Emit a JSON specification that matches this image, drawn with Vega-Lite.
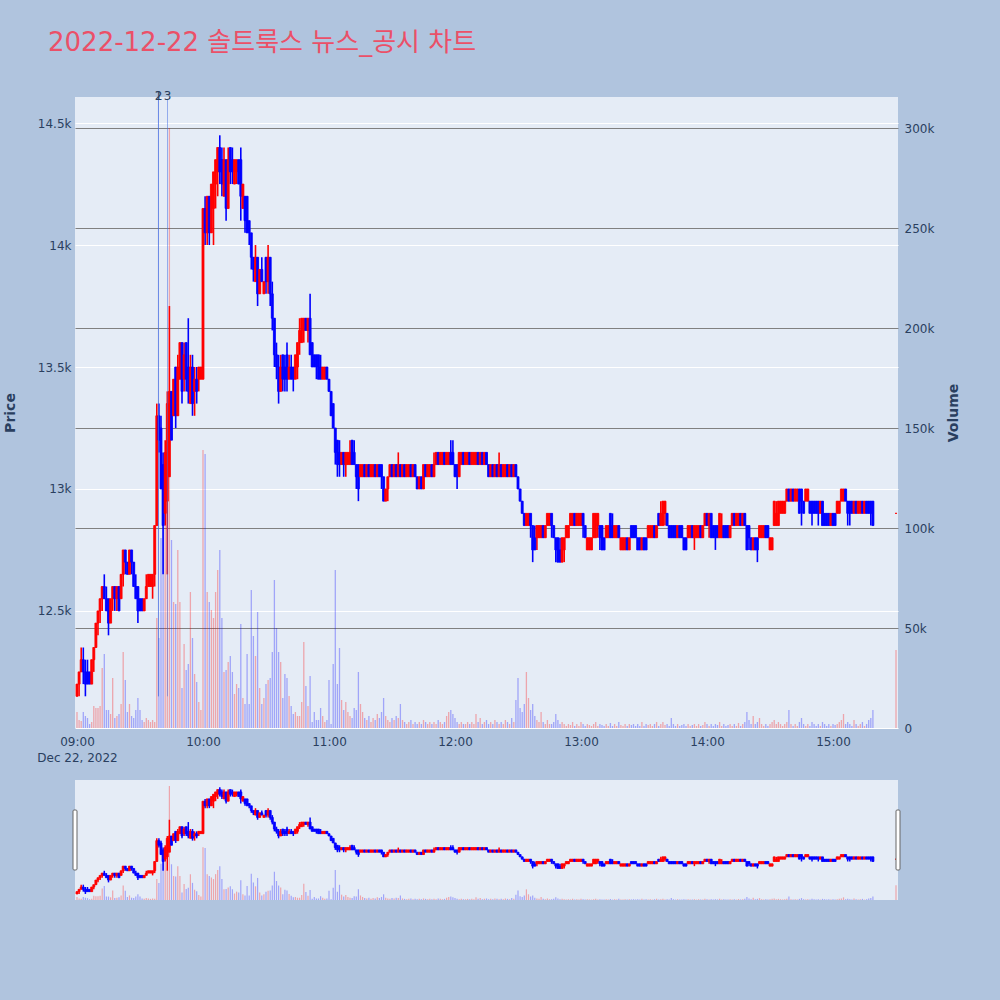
{
"$schema": "https://vega.github.io/schema/vega-lite/v6.json",
"autosize": "none",
"padding": {"left": 75, "top": 97, "right": 102, "bottom": 272},
"width": 823,
"height": 631,
"background": "#B0C4DE",
"title": {"text": "2022-12-22 솔트룩스 뉴스_공시 차트", "anchor": "start", "frame": "group", "dx": -27, "fontSize": 26, "font": "DejaVu Sans, Noto Sans CJK KR", "fontWeight": "normal", "color": "#EB5068", "baseline": "alphabetic", "offset": 13},
"config": {
  "font": "DejaVu Sans",
  "view": {"fill": "#E5ECF6", "stroke": null},
  "axis": {"labelFont": "DejaVu Sans", "labelColor": "#2a3f5f", "labelFontSize": 12, "domain": false, "ticks": false, "titleFont": "DejaVu Sans", "titleColor": "#2a3f5f"}
},
"datasets": {
"news": [{"m": 38.8, "n": "1"}, {"m": 38.8, "n": "2"}, {"m": 43.1, "n": "3"}],
"hd": [{"m": -0.95}, {"m": 390.95}],
"k": [
{"m":0,"o":12150,"h":12200,"l":12150,"c":12200,"v":8000},
{"m":1,"o":12200,"h":12250,"l":12150,"c":12250,"v":4000},
{"m":2,"o":12250,"h":12350,"l":12250,"c":12300,"v":3500},
{"m":3,"o":12300,"h":12350,"l":12200,"c":12250,"v":8000},
{"m":4,"o":12250,"h":12300,"l":12150,"c":12200,"v":6000},
{"m":5,"o":12250,"h":12300,"l":12200,"c":12200,"v":5000},
{"m":6,"o":12250,"h":12250,"l":12200,"c":12200,"v":2000},
{"m":7,"o":12200,"h":12300,"l":12200,"c":12300,"v":3000},
{"m":8,"o":12300,"h":12350,"l":12250,"c":12350,"v":11000},
{"m":9,"o":12350,"h":12450,"l":12350,"c":12450,"v":10000},
{"m":10,"o":12450,"h":12500,"l":12400,"c":12500,"v":10000},
{"m":11,"o":12500,"h":12550,"l":12450,"c":12550,"v":11000},
{"m":12,"o":12550,"h":12600,"l":12500,"c":12600,"v":30000},
{"m":13,"o":12600,"h":12650,"l":12550,"c":12550,"v":37000},
{"m":14,"o":12550,"h":12600,"l":12500,"c":12500,"v":9000},
{"m":15,"o":12550,"h":12550,"l":12400,"c":12450,"v":9000},
{"m":16,"o":12450,"h":12550,"l":12450,"c":12550,"v":7000},
{"m":17,"o":12550,"h":12600,"l":12500,"c":12600,"v":25000},
{"m":18,"o":12600,"h":12600,"l":12500,"c":12550,"v":5000},
{"m":19,"o":12550,"h":12600,"l":12500,"c":12600,"v":6000},
{"m":20,"o":12600,"h":12600,"l":12500,"c":12500,"v":7000},
{"m":21,"o":12550,"h":12650,"l":12550,"c":12650,"v":12000},
{"m":22,"o":12650,"h":12750,"l":12600,"c":12750,"v":38000},
{"m":23,"o":12750,"h":12750,"l":12650,"c":12700,"v":24000},
{"m":24,"o":12700,"h":12700,"l":12650,"c":12650,"v":8000},
{"m":25,"o":12650,"h":12750,"l":12650,"c":12750,"v":12000},
{"m":26,"o":12750,"h":12750,"l":12650,"c":12700,"v":6000},
{"m":27,"o":12700,"h":12700,"l":12600,"c":12600,"v":5000},
{"m":28,"o":12600,"h":12650,"l":12550,"c":12550,"v":9000},
{"m":29,"o":12600,"h":12600,"l":12450,"c":12500,"v":15000},
{"m":30,"o":12550,"h":12550,"l":12500,"c":12500,"v":9000},
{"m":31,"o":12550,"h":12550,"l":12500,"c":12500,"v":4000},
{"m":32,"o":12500,"h":12550,"l":12500,"c":12550,"v":3000},
{"m":33,"o":12550,"h":12650,"l":12550,"c":12600,"v":5000},
{"m":34,"o":12600,"h":12650,"l":12600,"c":12650,"v":4000},
{"m":35,"o":12600,"h":12650,"l":12600,"c":12650,"v":3000},
{"m":36,"o":12600,"h":12650,"l":12550,"c":12650,"v":4000},
{"m":37,"o":12650,"h":12850,"l":12600,"c":12850,"v":3000},
{"m":38,"o":12850,"h":13350,"l":12850,"c":13300,"v":55000},
{"m":39,"o":13300,"h":13350,"l":13150,"c":13200,"v":45000},
{"m":40,"o":13250,"h":13300,"l":13000,"c":13000,"v":95000},
{"m":41,"o":13100,"h":13150,"l":12650,"c":12850,"v":110000},
{"m":42,"o":12900,"h":13200,"l":12850,"c":13150,"v":118000},
{"m":43,"o":12950,"h":13400,"l":12650,"c":13350,"v":77000},
{"m":44,"o":13050,"h":13750,"l":13050,"c":13400,"v":300000},
{"m":45,"o":13400,"h":13400,"l":13200,"c":13200,"v":94000},
{"m":46,"o":13300,"h":13450,"l":13300,"c":13450,"v":63000},
{"m":47,"o":13500,"h":13500,"l":13250,"c":13300,"v":62000},
{"m":48,"o":13300,"h":13550,"l":13300,"c":13500,"v":89000},
{"m":49,"o":13450,"h":13600,"l":13450,"c":13600,"v":63000},
{"m":50,"o":13600,"h":13600,"l":13350,"c":13400,"v":20000},
{"m":51,"o":13450,"h":13600,"l":13400,"c":13550,"v":42000},
{"m":52,"o":13600,"h":13600,"l":13400,"c":13450,"v":29000},
{"m":53,"o":13500,"h":13700,"l":13350,"c":13400,"v":32000},
{"m":54,"o":13350,"h":13550,"l":13350,"c":13500,"v":68000},
{"m":55,"o":13500,"h":13550,"l":13300,"c":13350,"v":45000},
{"m":56,"o":13400,"h":13500,"l":13300,"c":13450,"v":27000},
{"m":57,"o":13450,"h":13500,"l":13350,"c":13400,"v":23000},
{"m":58,"o":13450,"h":13500,"l":13400,"c":13500,"v":13000},
{"m":59,"o":13450,"h":13500,"l":13450,"c":13500,"v":9000},
{"m":60,"o":13450,"h":14150,"l":13450,"c":14150,"v":139000},
{"m":61,"o":14150,"h":14200,"l":14000,"c":14050,"v":137000},
{"m":62,"o":14050,"h":14200,"l":14000,"c":14200,"v":68000},
{"m":63,"o":14200,"h":14200,"l":14000,"c":14050,"v":63000},
{"m":64,"o":14050,"h":14250,"l":14050,"c":14250,"v":59000},
{"m":65,"o":14150,"h":14300,"l":14000,"c":14300,"v":55000},
{"m":66,"o":14250,"h":14350,"l":14150,"c":14350,"v":68000},
{"m":67,"o":14300,"h":14400,"l":14200,"c":14400,"v":79000},
{"m":68,"o":14400,"h":14450,"l":14250,"c":14300,"v":89000},
{"m":69,"o":14350,"h":14400,"l":14200,"c":14250,"v":55000},
{"m":70,"o":14200,"h":14400,"l":14200,"c":14350,"v":28000},
{"m":71,"o":14350,"h":14350,"l":14100,"c":14150,"v":29000},
{"m":72,"o":14150,"h":14400,"l":14150,"c":14350,"v":33000},
{"m":73,"o":14400,"h":14400,"l":14250,"c":14300,"v":36000},
{"m":74,"o":14350,"h":14400,"l":14250,"c":14300,"v":28000},
{"m":75,"o":14250,"h":14350,"l":14250,"c":14350,"v":17000},
{"m":76,"o":14300,"h":14350,"l":14250,"c":14350,"v":22000},
{"m":77,"o":14350,"h":14350,"l":14250,"c":14250,"v":20000},
{"m":78,"o":14350,"h":14400,"l":14100,"c":14200,"v":52000},
{"m":79,"o":14150,"h":14250,"l":14150,"c":14250,"v":15000},
{"m":80,"o":14200,"h":14200,"l":14050,"c":14100,"v":12000},
{"m":81,"o":14200,"h":14200,"l":14050,"c":14050,"v":37000},
{"m":82,"o":14100,"h":14100,"l":14000,"c":14050,"v":12000},
{"m":83,"o":14050,"h":14050,"l":13900,"c":13950,"v":69000},
{"m":84,"o":13950,"h":13950,"l":13850,"c":13900,"v":46000},
{"m":85,"o":13850,"h":14000,"l":13850,"c":13950,"v":36000},
{"m":86,"o":13950,"h":13950,"l":13750,"c":13800,"v":58000},
{"m":87,"o":13800,"h":13900,"l":13800,"c":13900,"v":20000},
{"m":88,"o":13900,"h":13950,"l":13850,"c":13850,"v":12000},
{"m":89,"o":13800,"h":13850,"l":13800,"c":13850,"v":15000},
{"m":90,"o":13950,"h":13950,"l":13800,"c":13850,"v":22000},
{"m":91,"o":13850,"h":14000,"l":13800,"c":13950,"v":24000},
{"m":92,"o":13950,"h":13950,"l":13750,"c":13800,"v":25000},
{"m":93,"o":13800,"h":13850,"l":13650,"c":13700,"v":38000},
{"m":94,"o":13700,"h":13700,"l":13500,"c":13550,"v":74000},
{"m":95,"o":13550,"h":13600,"l":13450,"c":13500,"v":50000},
{"m":96,"o":13500,"h":13550,"l":13350,"c":13400,"v":38000},
{"m":97,"o":13400,"h":13550,"l":13400,"c":13500,"v":33000},
{"m":98,"o":13550,"h":13550,"l":13400,"c":13450,"v":15000},
{"m":99,"o":13500,"h":13550,"l":13400,"c":13450,"v":27000},
{"m":100,"o":13550,"h":13600,"l":13400,"c":13450,"v":25000},
{"m":101,"o":13450,"h":13550,"l":13450,"c":13500,"v":16000},
{"m":102,"o":13500,"h":13550,"l":13450,"c":13450,"v":11000},
{"m":103,"o":13500,"h":13500,"l":13400,"c":13450,"v":7000},
{"m":104,"o":13450,"h":13550,"l":13450,"c":13550,"v":8000},
{"m":105,"o":13500,"h":13600,"l":13450,"c":13600,"v":6000},
{"m":106,"o":13600,"h":13700,"l":13550,"c":13650,"v":6000},
{"m":107,"o":13600,"h":13700,"l":13600,"c":13700,"v":13000},
{"m":108,"o":13650,"h":13700,"l":13600,"c":13700,"v":43000},
{"m":109,"o":13700,"h":13700,"l":13650,"c":13650,"v":21000},
{"m":110,"o":13650,"h":13700,"l":13600,"c":13700,"v":11000},
{"m":111,"o":13700,"h":13800,"l":13550,"c":13550,"v":26000},
{"m":112,"o":13600,"h":13600,"l":13500,"c":13500,"v":3000},
{"m":113,"o":13550,"h":13550,"l":13500,"c":13500,"v":8000},
{"m":114,"o":13550,"h":13550,"l":13450,"c":13500,"v":4000},
{"m":115,"o":13550,"h":13550,"l":13450,"c":13450,"v":4000},
{"m":116,"o":13500,"h":13550,"l":13450,"c":13450,"v":10000},
{"m":117,"o":13450,"h":13500,"l":13450,"c":13500,"v":6000},
{"m":118,"o":13450,"h":13500,"l":13450,"c":13500,"v":3000},
{"m":119,"o":13500,"h":13500,"l":13450,"c":13450,"v":4000},
{"m":120,"o":13450,"h":13450,"l":13400,"c":13400,"v":24000},
{"m":121,"o":13400,"h":13400,"l":13300,"c":13300,"v":2000},
{"m":122,"o":13350,"h":13350,"l":13250,"c":13250,"v":32000},
{"m":123,"o":13250,"h":13250,"l":13100,"c":13150,"v":79000},
{"m":124,"o":13200,"h":13200,"l":13050,"c":13100,"v":22000},
{"m":125,"o":13150,"h":13200,"l":13050,"c":13100,"v":40000},
{"m":126,"o":13100,"h":13150,"l":13100,"c":13150,"v":14000},
{"m":127,"o":13150,"h":13150,"l":13050,"c":13100,"v":9000},
{"m":128,"o":13100,"h":13150,"l":13050,"c":13150,"v":13000},
{"m":129,"o":13100,"h":13150,"l":13100,"c":13150,"v":8000},
{"m":130,"o":13100,"h":13200,"l":13100,"c":13150,"v":6000},
{"m":131,"o":13200,"h":13200,"l":13100,"c":13100,"v":5000},
{"m":132,"o":13150,"h":13200,"l":13100,"c":13100,"v":10000},
{"m":133,"o":13100,"h":13100,"l":13000,"c":13050,"v":9000},
{"m":134,"o":13100,"h":13100,"l":12950,"c":13000,"v":28000},
{"m":135,"o":13050,"h":13100,"l":13050,"c":13100,"v":12000},
{"m":136,"o":13050,"h":13100,"l":13050,"c":13100,"v":8000},
{"m":137,"o":13100,"h":13100,"l":13050,"c":13050,"v":5000},
{"m":138,"o":13050,"h":13100,"l":13050,"c":13100,"v":4000},
{"m":139,"o":13100,"h":13100,"l":13050,"c":13050,"v":6000},
{"m":140,"o":13050,"h":13100,"l":13050,"c":13100,"v":3000},
{"m":141,"o":13050,"h":13100,"l":13050,"c":13100,"v":5000},
{"m":142,"o":13100,"h":13100,"l":13050,"c":13050,"v":4000},
{"m":143,"o":13050,"h":13100,"l":13050,"c":13100,"v":7000},
{"m":144,"o":13100,"h":13100,"l":13050,"c":13050,"v":5000},
{"m":145,"o":13100,"h":13100,"l":13000,"c":13050,"v":8000},
{"m":146,"o":13050,"h":13050,"l":12950,"c":12950,"v":15000},
{"m":147,"o":12950,"h":13000,"l":12950,"c":13000,"v":6000},
{"m":148,"o":13000,"h":13050,"l":12950,"c":13050,"v":4000},
{"m":149,"o":13050,"h":13100,"l":13050,"c":13100,"v":3000},
{"m":150,"o":13100,"h":13100,"l":13050,"c":13050,"v":5000},
{"m":151,"o":13050,"h":13100,"l":13050,"c":13100,"v":4000},
{"m":152,"o":13100,"h":13100,"l":13050,"c":13050,"v":6000},
{"m":153,"o":13050,"h":13150,"l":13050,"c":13100,"v":5000},
{"m":154,"o":13100,"h":13100,"l":13050,"c":13050,"v":12000},
{"m":155,"o":13050,"h":13100,"l":13050,"c":13100,"v":4000},
{"m":156,"o":13100,"h":13100,"l":13050,"c":13050,"v":3000},
{"m":157,"o":13050,"h":13100,"l":13050,"c":13100,"v":2000},
{"m":158,"o":13050,"h":13100,"l":13050,"c":13100,"v":3000},
{"m":159,"o":13100,"h":13100,"l":13050,"c":13050,"v":4000},
{"m":160,"o":13050,"h":13100,"l":13050,"c":13100,"v":2000},
{"m":161,"o":13100,"h":13100,"l":13050,"c":13050,"v":3000},
{"m":162,"o":13050,"h":13050,"l":13000,"c":13000,"v":2000},
{"m":163,"o":13000,"h":13050,"l":13000,"c":13050,"v":3000},
{"m":164,"o":13050,"h":13050,"l":13000,"c":13000,"v":2000},
{"m":165,"o":13000,"h":13100,"l":13000,"c":13100,"v":4000},
{"m":166,"o":13100,"h":13100,"l":13050,"c":13050,"v":3000},
{"m":167,"o":13050,"h":13100,"l":13050,"c":13100,"v":2000},
{"m":168,"o":13050,"h":13100,"l":13050,"c":13100,"v":3000},
{"m":169,"o":13100,"h":13100,"l":13050,"c":13050,"v":2000},
{"m":170,"o":13050,"h":13150,"l":13050,"c":13100,"v":3000},
{"m":171,"o":13100,"h":13150,"l":13100,"c":13150,"v":2000},
{"m":172,"o":13150,"h":13150,"l":13100,"c":13100,"v":4000},
{"m":173,"o":13100,"h":13150,"l":13100,"c":13150,"v":3000},
{"m":174,"o":13100,"h":13150,"l":13100,"c":13150,"v":2000},
{"m":175,"o":13150,"h":13150,"l":13100,"c":13100,"v":3000},
{"m":176,"o":13100,"h":13150,"l":13100,"c":13150,"v":6000},
{"m":177,"o":13100,"h":13150,"l":13100,"c":13150,"v":8000},
{"m":178,"o":13150,"h":13200,"l":13100,"c":13100,"v":9000},
{"m":179,"o":13150,"h":13200,"l":13100,"c":13100,"v":7000},
{"m":180,"o":13100,"h":13100,"l":13050,"c":13050,"v":5000},
{"m":181,"o":13100,"h":13100,"l":13000,"c":13050,"v":3000},
{"m":182,"o":13050,"h":13150,"l":13050,"c":13150,"v":2000},
{"m":183,"o":13100,"h":13150,"l":13100,"c":13150,"v":3000},
{"m":184,"o":13150,"h":13150,"l":13100,"c":13100,"v":2000},
{"m":185,"o":13100,"h":13150,"l":13100,"c":13150,"v":2000},
{"m":186,"o":13100,"h":13150,"l":13100,"c":13150,"v":3000},
{"m":187,"o":13150,"h":13150,"l":13100,"c":13100,"v":2000},
{"m":188,"o":13100,"h":13150,"l":13100,"c":13150,"v":3000},
{"m":189,"o":13100,"h":13150,"l":13100,"c":13150,"v":2000},
{"m":190,"o":13100,"h":13150,"l":13100,"c":13150,"v":7000},
{"m":191,"o":13150,"h":13150,"l":13100,"c":13100,"v":3000},
{"m":192,"o":13100,"h":13150,"l":13100,"c":13150,"v":5000},
{"m":193,"o":13150,"h":13150,"l":13100,"c":13100,"v":2000},
{"m":194,"o":13100,"h":13150,"l":13100,"c":13150,"v":3000},
{"m":195,"o":13150,"h":13150,"l":13100,"c":13100,"v":4000},
{"m":196,"o":13100,"h":13100,"l":13050,"c":13050,"v":2000},
{"m":197,"o":13050,"h":13100,"l":13050,"c":13100,"v":3000},
{"m":198,"o":13100,"h":13100,"l":13050,"c":13050,"v":2000},
{"m":199,"o":13050,"h":13100,"l":13050,"c":13100,"v":4000},
{"m":200,"o":13100,"h":13100,"l":13050,"c":13050,"v":3000},
{"m":201,"o":13050,"h":13150,"l":13050,"c":13100,"v":2000},
{"m":202,"o":13100,"h":13100,"l":13050,"c":13050,"v":3000},
{"m":203,"o":13050,"h":13100,"l":13050,"c":13100,"v":2000},
{"m":204,"o":13050,"h":13100,"l":13050,"c":13100,"v":4000},
{"m":205,"o":13100,"h":13100,"l":13050,"c":13050,"v":3000},
{"m":206,"o":13050,"h":13100,"l":13050,"c":13100,"v":2000},
{"m":207,"o":13100,"h":13100,"l":13050,"c":13050,"v":5000},
{"m":208,"o":13050,"h":13100,"l":13050,"c":13100,"v":3000},
{"m":209,"o":13100,"h":13100,"l":13050,"c":13050,"v":14000},
{"m":210,"o":13050,"h":13050,"l":13000,"c":13000,"v":25000},
{"m":211,"o":13000,"h":13000,"l":12950,"c":12950,"v":10000},
{"m":212,"o":12950,"h":12950,"l":12900,"c":12900,"v":8000},
{"m":213,"o":12900,"h":12900,"l":12850,"c":12850,"v":12000},
{"m":214,"o":12850,"h":12900,"l":12850,"c":12900,"v":28000},
{"m":215,"o":12850,"h":12900,"l":12850,"c":12900,"v":15000},
{"m":216,"o":12900,"h":12900,"l":12800,"c":12850,"v":9000},
{"m":217,"o":12850,"h":12850,"l":12700,"c":12750,"v":12000},
{"m":218,"o":12800,"h":12850,"l":12750,"c":12750,"v":6000},
{"m":219,"o":12800,"h":12850,"l":12750,"c":12850,"v":4000},
{"m":220,"o":12800,"h":12850,"l":12800,"c":12850,"v":3000},
{"m":221,"o":12800,"h":12850,"l":12800,"c":12850,"v":8000},
{"m":222,"o":12850,"h":12850,"l":12800,"c":12800,"v":3000},
{"m":223,"o":12800,"h":12850,"l":12800,"c":12850,"v":2000},
{"m":224,"o":12850,"h":12900,"l":12850,"c":12900,"v":4000},
{"m":225,"o":12850,"h":12900,"l":12850,"c":12900,"v":2000},
{"m":226,"o":12900,"h":12900,"l":12800,"c":12850,"v":2000},
{"m":227,"o":12850,"h":12850,"l":12800,"c":12800,"v":3000},
{"m":228,"o":12800,"h":12800,"l":12700,"c":12750,"v":7000},
{"m":229,"o":12800,"h":12800,"l":12700,"c":12700,"v":4000},
{"m":230,"o":12750,"h":12800,"l":12700,"c":12700,"v":2000},
{"m":231,"o":12700,"h":12800,"l":12700,"c":12800,"v":3000},
{"m":232,"o":12750,"h":12800,"l":12700,"c":12800,"v":2000},
{"m":233,"o":12800,"h":12850,"l":12800,"c":12850,"v":1000},
{"m":234,"o":12800,"h":12850,"l":12800,"c":12850,"v":2000},
{"m":235,"o":12850,"h":12900,"l":12850,"c":12900,"v":1500},
{"m":236,"o":12850,"h":12900,"l":12850,"c":12900,"v":3000},
{"m":237,"o":12900,"h":12900,"l":12850,"c":12850,"v":1000},
{"m":238,"o":12850,"h":12900,"l":12850,"c":12900,"v":2000},
{"m":239,"o":12850,"h":12900,"l":12850,"c":12900,"v":1000},
{"m":240,"o":12850,"h":12900,"l":12850,"c":12900,"v":3000},
{"m":241,"o":12900,"h":12900,"l":12800,"c":12850,"v":2000},
{"m":242,"o":12850,"h":12850,"l":12800,"c":12800,"v":1000},
{"m":243,"o":12750,"h":12800,"l":12750,"c":12800,"v":2000},
{"m":244,"o":12750,"h":12800,"l":12750,"c":12800,"v":1500},
{"m":245,"o":12750,"h":12800,"l":12750,"c":12800,"v":1000},
{"m":246,"o":12800,"h":12900,"l":12800,"c":12900,"v":2000},
{"m":247,"o":12800,"h":12900,"l":12800,"c":12900,"v":3000},
{"m":248,"o":12850,"h":12900,"l":12800,"c":12900,"v":1000},
{"m":249,"o":12850,"h":12850,"l":12750,"c":12800,"v":2000},
{"m":250,"o":12850,"h":12850,"l":12750,"c":12750,"v":1500},
{"m":251,"o":12800,"h":12800,"l":12750,"c":12750,"v":1000},
{"m":252,"o":12800,"h":12850,"l":12800,"c":12850,"v":2000},
{"m":253,"o":12800,"h":12850,"l":12800,"c":12850,"v":1000},
{"m":254,"o":12900,"h":12900,"l":12800,"c":12800,"v":2500},
{"m":255,"o":12850,"h":12900,"l":12800,"c":12800,"v":1000},
{"m":256,"o":12800,"h":12850,"l":12800,"c":12850,"v":2000},
{"m":257,"o":12800,"h":12850,"l":12800,"c":12850,"v":1000},
{"m":258,"o":12850,"h":12850,"l":12800,"c":12800,"v":3000},
{"m":259,"o":12750,"h":12800,"l":12750,"c":12800,"v":1500},
{"m":260,"o":12750,"h":12800,"l":12750,"c":12800,"v":1000},
{"m":261,"o":12750,"h":12800,"l":12750,"c":12800,"v":2000},
{"m":262,"o":12800,"h":12800,"l":12750,"c":12750,"v":1000},
{"m":263,"o":12750,"h":12800,"l":12750,"c":12800,"v":2000},
{"m":264,"o":12850,"h":12850,"l":12800,"c":12800,"v":1500},
{"m":265,"o":12850,"h":12850,"l":12800,"c":12800,"v":2000},
{"m":266,"o":12850,"h":12850,"l":12800,"c":12800,"v":1000},
{"m":267,"o":12800,"h":12800,"l":12750,"c":12750,"v":2000},
{"m":268,"o":12800,"h":12800,"l":12750,"c":12750,"v":1000},
{"m":269,"o":12750,"h":12800,"l":12750,"c":12800,"v":3000},
{"m":270,"o":12800,"h":12800,"l":12750,"c":12750,"v":1000},
{"m":271,"o":12800,"h":12800,"l":12750,"c":12750,"v":2000},
{"m":272,"o":12800,"h":12850,"l":12800,"c":12850,"v":1500},
{"m":273,"o":12800,"h":12850,"l":12800,"c":12850,"v":2000},
{"m":274,"o":12800,"h":12850,"l":12800,"c":12850,"v":1000},
{"m":275,"o":12850,"h":12850,"l":12800,"c":12800,"v":2000},
{"m":276,"o":12800,"h":12850,"l":12800,"c":12850,"v":3000},
{"m":277,"o":12900,"h":12900,"l":12850,"c":12850,"v":1000},
{"m":278,"o":12850,"h":12950,"l":12850,"c":12900,"v":2000},
{"m":279,"o":12850,"h":12950,"l":12850,"c":12950,"v":3000},
{"m":280,"o":12900,"h":12950,"l":12850,"c":12950,"v":1500},
{"m":281,"o":12900,"h":12900,"l":12850,"c":12850,"v":2000},
{"m":282,"o":12850,"h":12850,"l":12800,"c":12800,"v":1000},
{"m":283,"o":12850,"h":12850,"l":12800,"c":12800,"v":5000},
{"m":284,"o":12850,"h":12850,"l":12800,"c":12800,"v":2000},
{"m":285,"o":12850,"h":12850,"l":12800,"c":12800,"v":1000},
{"m":286,"o":12800,"h":12850,"l":12800,"c":12850,"v":2000},
{"m":287,"o":12850,"h":12850,"l":12800,"c":12800,"v":1000},
{"m":288,"o":12850,"h":12850,"l":12800,"c":12800,"v":1500},
{"m":289,"o":12800,"h":12800,"l":12750,"c":12750,"v":2000},
{"m":290,"o":12800,"h":12800,"l":12750,"c":12750,"v":1000},
{"m":291,"o":12800,"h":12850,"l":12800,"c":12850,"v":2000},
{"m":292,"o":12800,"h":12850,"l":12800,"c":12850,"v":1000},
{"m":293,"o":12850,"h":12850,"l":12800,"c":12800,"v":1500},
{"m":294,"o":12800,"h":12850,"l":12750,"c":12850,"v":2000},
{"m":295,"o":12800,"h":12850,"l":12800,"c":12850,"v":1000},
{"m":296,"o":12800,"h":12850,"l":12800,"c":12850,"v":2000},
{"m":297,"o":12850,"h":12850,"l":12800,"c":12800,"v":1000},
{"m":298,"o":12800,"h":12850,"l":12800,"c":12850,"v":1500},
{"m":299,"o":12850,"h":12900,"l":12850,"c":12900,"v":3000},
{"m":300,"o":12900,"h":12900,"l":12850,"c":12850,"v":2000},
{"m":301,"o":12850,"h":12900,"l":12800,"c":12900,"v":1000},
{"m":302,"o":12900,"h":12900,"l":12800,"c":12800,"v":2000},
{"m":303,"o":12850,"h":12850,"l":12800,"c":12800,"v":1000},
{"m":304,"o":12850,"h":12850,"l":12750,"c":12800,"v":2000},
{"m":305,"o":12850,"h":12850,"l":12800,"c":12800,"v":1500},
{"m":306,"o":12800,"h":12900,"l":12800,"c":12900,"v":3000},
{"m":307,"o":12800,"h":12900,"l":12800,"c":12850,"v":1000},
{"m":308,"o":12850,"h":12850,"l":12800,"c":12800,"v":2000},
{"m":309,"o":12850,"h":12850,"l":12800,"c":12800,"v":1000},
{"m":310,"o":12850,"h":12850,"l":12800,"c":12800,"v":1500},
{"m":311,"o":12800,"h":12850,"l":12800,"c":12850,"v":2000},
{"m":312,"o":12850,"h":12900,"l":12850,"c":12900,"v":1000},
{"m":313,"o":12900,"h":12900,"l":12850,"c":12850,"v":2000},
{"m":314,"o":12850,"h":12900,"l":12850,"c":12900,"v":1000},
{"m":315,"o":12850,"h":12900,"l":12850,"c":12900,"v":2500},
{"m":316,"o":12900,"h":12900,"l":12850,"c":12850,"v":1000},
{"m":317,"o":12850,"h":12900,"l":12850,"c":12900,"v":2000},
{"m":318,"o":12900,"h":12900,"l":12850,"c":12850,"v":3000},
{"m":319,"o":12850,"h":12850,"l":12750,"c":12750,"v":8000},
{"m":320,"o":12850,"h":12850,"l":12750,"c":12800,"v":4000},
{"m":321,"o":12800,"h":12800,"l":12750,"c":12750,"v":2000},
{"m":322,"o":12750,"h":12800,"l":12750,"c":12800,"v":6000},
{"m":323,"o":12800,"h":12800,"l":12750,"c":12750,"v":2000},
{"m":324,"o":12800,"h":12800,"l":12700,"c":12750,"v":3000},
{"m":325,"o":12800,"h":12850,"l":12800,"c":12850,"v":5000},
{"m":326,"o":12800,"h":12850,"l":12800,"c":12850,"v":2000},
{"m":327,"o":12800,"h":12850,"l":12800,"c":12850,"v":1000},
{"m":328,"o":12850,"h":12850,"l":12800,"c":12800,"v":2000},
{"m":329,"o":12850,"h":12850,"l":12800,"c":12800,"v":1000},
{"m":330,"o":12750,"h":12800,"l":12750,"c":12800,"v":2000},
{"m":331,"o":12750,"h":12800,"l":12750,"c":12800,"v":3000},
{"m":332,"o":12850,"h":12950,"l":12850,"c":12950,"v":4000},
{"m":333,"o":12850,"h":12950,"l":12850,"c":12900,"v":2000},
{"m":334,"o":12850,"h":12950,"l":12850,"c":12950,"v":3000},
{"m":335,"o":12900,"h":12950,"l":12900,"c":12950,"v":2000},
{"m":336,"o":12900,"h":12950,"l":12900,"c":12950,"v":1000},
{"m":337,"o":12900,"h":12950,"l":12900,"c":12950,"v":2000},
{"m":338,"o":12950,"h":13000,"l":12950,"c":13000,"v":3000},
{"m":339,"o":13000,"h":13000,"l":12950,"c":12950,"v":9000},
{"m":340,"o":12950,"h":13000,"l":12950,"c":13000,"v":2000},
{"m":341,"o":13000,"h":13000,"l":12950,"c":12950,"v":1000},
{"m":342,"o":12950,"h":13000,"l":12950,"c":13000,"v":2000},
{"m":343,"o":12950,"h":13000,"l":12950,"c":13000,"v":1000},
{"m":344,"o":13000,"h":13000,"l":12900,"c":12900,"v":3000},
{"m":345,"o":13000,"h":13000,"l":12850,"c":12950,"v":5000},
{"m":346,"o":12950,"h":12950,"l":12900,"c":12900,"v":2000},
{"m":347,"o":12950,"h":13000,"l":12950,"c":13000,"v":1000},
{"m":348,"o":12950,"h":13000,"l":12950,"c":13000,"v":2000},
{"m":349,"o":12950,"h":12950,"l":12900,"c":12900,"v":1000},
{"m":350,"o":12950,"h":12950,"l":12850,"c":12900,"v":3000},
{"m":351,"o":12950,"h":12950,"l":12900,"c":12900,"v":2000},
{"m":352,"o":12950,"h":12950,"l":12900,"c":12900,"v":1000},
{"m":353,"o":12950,"h":12950,"l":12850,"c":12900,"v":2000},
{"m":354,"o":12900,"h":12950,"l":12900,"c":12950,"v":1000},
{"m":355,"o":12950,"h":12950,"l":12850,"c":12850,"v":3000},
{"m":356,"o":12900,"h":12900,"l":12850,"c":12850,"v":2000},
{"m":357,"o":12900,"h":12900,"l":12850,"c":12850,"v":1000},
{"m":358,"o":12900,"h":12900,"l":12850,"c":12850,"v":2000},
{"m":359,"o":12850,"h":12900,"l":12850,"c":12900,"v":1000},
{"m":360,"o":12900,"h":12900,"l":12850,"c":12850,"v":2000},
{"m":361,"o":12900,"h":12900,"l":12850,"c":12850,"v":1500},
{"m":362,"o":12900,"h":12950,"l":12900,"c":12950,"v":2000},
{"m":363,"o":12900,"h":12950,"l":12900,"c":12950,"v":3000},
{"m":364,"o":12950,"h":13000,"l":12950,"c":13000,"v":4000},
{"m":365,"o":12950,"h":13000,"l":12950,"c":13000,"v":7000},
{"m":366,"o":13000,"h":13000,"l":12950,"c":12950,"v":2000},
{"m":367,"o":12950,"h":12950,"l":12850,"c":12900,"v":3000},
{"m":368,"o":12950,"h":12950,"l":12850,"c":12900,"v":2000},
{"m":369,"o":12950,"h":12950,"l":12900,"c":12900,"v":1000},
{"m":370,"o":12900,"h":12950,"l":12900,"c":12950,"v":4000},
{"m":371,"o":12950,"h":12950,"l":12900,"c":12900,"v":2000},
{"m":372,"o":12900,"h":12950,"l":12900,"c":12950,"v":1000},
{"m":373,"o":12900,"h":12950,"l":12900,"c":12950,"v":2000},
{"m":374,"o":12950,"h":12950,"l":12900,"c":12900,"v":3000},
{"m":375,"o":12900,"h":12950,"l":12900,"c":12950,"v":1000},
{"m":376,"o":12950,"h":12950,"l":12900,"c":12900,"v":2000},
{"m":377,"o":12950,"h":12950,"l":12900,"c":12900,"v":4000},
{"m":378,"o":12950,"h":12950,"l":12850,"c":12900,"v":5000},
{"m":379,"o":12950,"h":12950,"l":12850,"c":12850,"v":9000},
{"m":390,"o":12900,"h":12900,"l":12900,"c":12900,"v":39000}
]
},
"data": {"name": "k"},
"layer": [
  {
    "mark": {"type": "bar", "orient": "vertical", "size": 1.3, "opacity": 0.3},
    "encoding": {
      "x": {"field": "m", "type": "quantitative", "scale": {"domain": [-0.95, 390.95], "nice": false, "zero": false, "padding": 0},
            "axis": {"values": [0, 60, 120, 180, 240, 300, 360], "labelExpr": "datum.value == 0 ? ['09:00', 'Dec 22, 2022'] : ((9 + datum.value / 60) < 10 ? '0' : '') + (9 + datum.value / 60) + ':00'", "grid": false, "labelFlush": false, "labelOverlap": false, "labelPadding": 8, "labelLineHeight": 16, "title": null}},
      "y": {"field": "v", "type": "quantitative", "stack": null, "scale": {"domain": [0, 315500], "nice": false, "zero": false, "range": [631, 0]},
            "axis": {"orient": "right", "values": [0, 50000, 100000, 150000, 200000, 250000, 300000], "labelExpr": "datum.value == 0 ? '0' : (datum.value / 1000) + 'k'", "grid": true, "gridColor": {"condition": {"test": "datum.value == 0", "value": "#ffffff"}, "value": "#808080"}, "gridWidth": 1, "title": "Volume", "titleAngle": 270, "titleX": 55, "titleY": 315.5, "titleAlign": "center", "titleBaseline": "middle", "titleFontSize": 14, "titleFontWeight": "bold", "labelPadding": 6}},
      "color": {"condition": {"test": "datum.c >= datum.o", "value": "#ff0000"}, "value": "#0000ff"}
    }
  },
  {
    "mark": {"type": "rule", "strokeWidth": 1.6},
    "encoding": {
      "x": {"field": "m", "type": "quantitative"},
      "y": {"field": "l", "type": "quantitative", "scale": {"domain": [12020, 14607], "nice": false, "zero": false, "range": [631, 0]},
            "axis": {"orient": "left", "values": [12500, 13000, 13500, 14000, 14500], "labelExpr": "(datum.value / 1000) + 'k'", "grid": true, "gridColor": "#ffffff", "gridWidth": 1, "title": "Price", "titleAngle": 270, "titleX": -65, "titleY": 315.5, "titleAlign": "center", "titleBaseline": "middle", "titleFontSize": 14, "titleFontWeight": "bold", "labelPadding": 4}},
      "y2": {"field": "h"},
      "color": {"condition": {"test": "datum.c >= datum.o", "value": "#ff0000"}, "value": "#0000ff"}
    }
  },
  {
    "mark": {"type": "bar", "orient": "vertical", "size": 2, "strokeWidth": 0.8},
    "encoding": {
      "x": {"field": "m", "type": "quantitative"},
      "y": {"field": "o", "type": "quantitative", "scale": {"domain": [12020, 14607], "nice": false, "zero": false, "range": [631, 0]}, "axis": null},
      "y2": {"field": "c"},
      "color": {"condition": {"test": "datum.c >= datum.o", "value": "#ff0000"}, "value": "#0000ff"},
      "stroke": {"condition": {"test": "datum.c >= datum.o", "value": "#ff0000"}, "value": "#0000ff"}
    }
  },
  {
    "data": {"name": "news"},
    "mark": {"type": "rule", "color": "#4169E1", "opacity": 0.5, "strokeWidth": 1},
    "encoding": {
      "x": {"field": "m", "type": "quantitative"},
      "y": {"datum": 12150, "type": "quantitative", "scale": {"domain": [12020, 14607], "nice": false, "zero": false, "range": [631, 0]}, "axis": null},
      "y2": {"datum": 14600}
    }
  },
  {
    "data": {"name": "news"},
    "mark": {"type": "text", "fontSize": 12, "color": "#2a3f5f", "baseline": "middle", "font": "DejaVu Sans"},
    "encoding": {
      "x": {"field": "m", "type": "quantitative"},
      "y": {"datum": 14612, "type": "quantitative", "scale": {"domain": [12020, 14607], "nice": false, "zero": false, "range": [631, 0]}, "axis": null},
      "text": {"field": "n"}
    }
  },
  {
    "data": {"values": [{}]},
    "mark": {"type": "rect", "fill": "#E5ECF6"},
    "encoding": {
      "x": {"datum": -0.95, "type": "quantitative"},
      "x2": {"datum": 390.95},
      "y": {"datum": 12020, "type": "quantitative", "scale": {"domain": [12020, 14607], "nice": false, "zero": false, "range": [803, 683]}, "axis": null},
      "y2": {"datum": 14607}
    }
  },
  {
    "mark": {"type": "bar", "orient": "vertical", "size": 1.2, "opacity": 0.3},
    "encoding": {
      "x": {"field": "m", "type": "quantitative"},
      "y": {"field": "v", "type": "quantitative", "stack": null, "scale": {"domain": [0, 315500], "nice": false, "zero": false, "range": [803, 683]}, "axis": null},
      "color": {"condition": {"test": "datum.c >= datum.o", "value": "#ff0000"}, "value": "#0000ff"}
    }
  },
  {
    "mark": {"type": "rule", "strokeWidth": 1.5},
    "encoding": {
      "x": {"field": "m", "type": "quantitative"},
      "y": {"field": "l", "type": "quantitative", "scale": {"domain": [12020, 14607], "nice": false, "zero": false, "range": [803, 683]}, "axis": null},
      "y2": {"field": "h"},
      "color": {"condition": {"test": "datum.c >= datum.o", "value": "#ff0000"}, "value": "#0000ff"}
    }
  },
  {
    "mark": {"type": "bar", "orient": "vertical", "size": 2, "strokeWidth": 0.8},
    "encoding": {
      "x": {"field": "m", "type": "quantitative"},
      "y": {"field": "o", "type": "quantitative", "scale": {"domain": [12020, 14607], "nice": false, "zero": false, "range": [803, 683]}, "axis": null},
      "y2": {"field": "c"},
      "color": {"condition": {"test": "datum.c >= datum.o", "value": "#ff0000"}, "value": "#0000ff"},
      "stroke": {"condition": {"test": "datum.c >= datum.o", "value": "#ff0000"}, "value": "#0000ff"}
    }
  },
  {
    "data": {"name": "hd"},
    "mark": {"type": "bar", "orient": "vertical", "size": 4, "fill": "#ffffff", "stroke": "#666666", "strokeWidth": 1, "cornerRadius": 1},
    "encoding": {
      "x": {"field": "m", "type": "quantitative"},
      "y": {"datum": 12667, "type": "quantitative", "scale": {"domain": [12020, 14607], "nice": false, "zero": false, "range": [803, 683]}, "axis": null},
      "y2": {"datum": 13960}
    }
  }
],
"resolve": {"scale": {"y": "independent"}}
}
